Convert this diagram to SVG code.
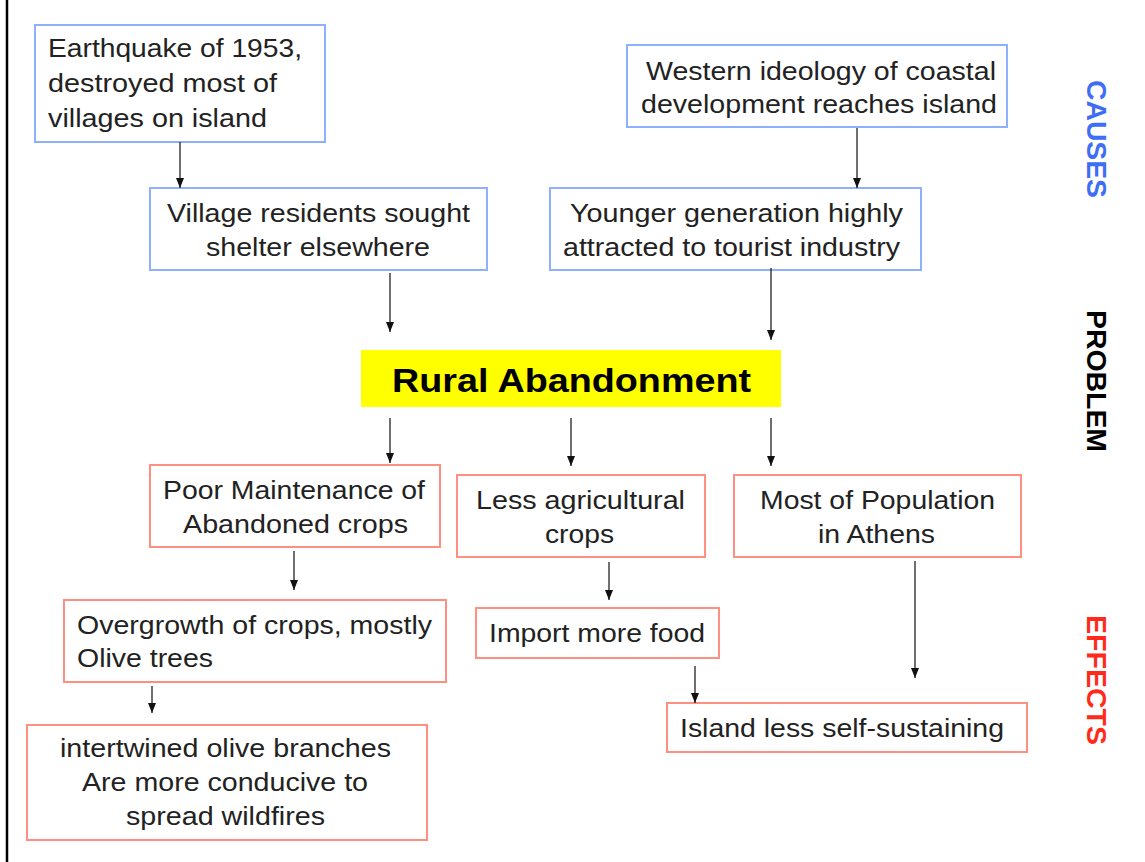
<svg xmlns="http://www.w3.org/2000/svg" width="1145" height="862" viewBox="0 0 1145 862">
<style>
.b{fill:#fff;stroke:#8fb0ff;stroke-width:2}
.r{fill:#fff;stroke:#ff8f80;stroke-width:2}
.t{font-family:"Liberation Sans",Arial,sans-serif;font-size:25px;fill:#222}
.side{font-family:"Liberation Sans",Arial,sans-serif;font-size:27px;font-weight:bold}
.a{stroke:#222;stroke-width:1.3;fill:none;marker-end:url(#ah)}
</style>
<defs>
<marker id="ah" viewBox="0 0 10 8" refX="10" refY="4" markerWidth="10" markerHeight="8" markerUnits="userSpaceOnUse" orient="auto">
<path d="M0,0 L10,4 L0,8 Z" fill="#111"/>
</marker>
</defs>
<rect width="1145" height="862" fill="#fff"/>
<line x1="7" y1="0" x2="7" y2="862" stroke="#000" stroke-width="2.5"/>
<g id="n1"><rect class="b" x="35" y="25" width="290" height="117"/>
<text class="t" x="48" y="57" textLength="254" lengthAdjust="spacingAndGlyphs">Earthquake of 1953,</text>
<text class="t" x="48" y="92" textLength="229" lengthAdjust="spacingAndGlyphs">destroyed most of</text>
<text class="t" x="48" y="127" textLength="219" lengthAdjust="spacingAndGlyphs">villages on island</text></g>
<g id="n2"><rect class="b" x="627" y="45" width="380" height="82"/>
<text class="t" x="646" y="80" textLength="350" lengthAdjust="spacingAndGlyphs">Western ideology of coastal</text>
<text class="t" x="641" y="113" textLength="356" lengthAdjust="spacingAndGlyphs">development reaches island</text></g>
<g id="n3"><rect class="b" x="150" y="188" width="337" height="82"/>
<text class="t" x="167" y="222" textLength="303" lengthAdjust="spacingAndGlyphs">Village residents sought</text>
<text class="t" x="206" y="256" textLength="224" lengthAdjust="spacingAndGlyphs">shelter elsewhere</text></g>
<g id="n4"><rect class="b" x="550" y="188" width="371" height="82"/>
<text class="t" x="570" y="222" textLength="333" lengthAdjust="spacingAndGlyphs">Younger generation highly</text>
<text class="t" x="563" y="256" textLength="337" lengthAdjust="spacingAndGlyphs">attracted to tourist industry</text></g>
<g id="n5"><rect x="361" y="350" width="420" height="57" fill="#ffff00"/>
<text x="392" y="392" font-family="Liberation Sans,Arial,sans-serif" font-size="33" font-weight="bold" fill="#000" textLength="359" lengthAdjust="spacingAndGlyphs">Rural Abandonment</text></g>
<g id="n6"><rect class="r" x="150" y="465" width="290" height="82"/>
<text class="t" x="163" y="499" textLength="262" lengthAdjust="spacingAndGlyphs">Poor Maintenance of</text>
<text class="t" x="183" y="533" textLength="225" lengthAdjust="spacingAndGlyphs">Abandoned crops</text></g>
<g id="n7"><rect class="r" x="457" y="475" width="248" height="82"/>
<text class="t" x="476" y="509" textLength="209" lengthAdjust="spacingAndGlyphs">Less agricultural</text>
<text class="t" x="545" y="543" textLength="69" lengthAdjust="spacingAndGlyphs">crops</text></g>
<g id="n8"><rect class="r" x="734" y="475" width="287" height="82"/>
<text class="t" x="760" y="509" textLength="235" lengthAdjust="spacingAndGlyphs">Most of Population</text>
<text class="t" x="818" y="543" textLength="117" lengthAdjust="spacingAndGlyphs">in Athens</text></g>
<g id="n9"><rect class="r" x="64" y="600" width="382" height="82"/>
<text class="t" x="77" y="634" textLength="355" lengthAdjust="spacingAndGlyphs">Overgrowth of crops, mostly</text>
<text class="t" x="77" y="667" textLength="136" lengthAdjust="spacingAndGlyphs">Olive trees</text></g>
<g id="n10"><rect class="r" x="476" y="608" width="243" height="50"/>
<text class="t" x="489" y="642" textLength="216" lengthAdjust="spacingAndGlyphs">Import more food</text></g>
<g id="n11"><rect class="r" x="667" y="703" width="360" height="49"/>
<text class="t" x="680" y="737" textLength="324" lengthAdjust="spacingAndGlyphs">Island less self-sustaining</text></g>
<g id="n12"><rect class="r" x="27" y="725" width="400" height="115"/>
<text class="t" x="60" y="757" textLength="331" lengthAdjust="spacingAndGlyphs">intertwined olive branches</text>
<text class="t" x="82" y="791" textLength="286" lengthAdjust="spacingAndGlyphs">Are more conducive to</text>
<text class="t" x="126" y="825" textLength="199" lengthAdjust="spacingAndGlyphs">spread wildfires</text></g>
<g id="connectors">
<line class="a" x1="180" y1="142" x2="180" y2="188"/>
<line class="a" x1="857" y1="128" x2="857" y2="188"/>
<line class="a" x1="390" y1="273" x2="390" y2="332"/>
<line class="a" x1="771" y1="268" x2="771" y2="340"/>
<line class="a" x1="390" y1="418" x2="390" y2="463"/>
<line class="a" x1="571" y1="418" x2="571" y2="466"/>
<line class="a" x1="771" y1="418" x2="771" y2="466"/>
<line class="a" x1="294" y1="551" x2="294" y2="590"/>
<line class="a" x1="609" y1="562" x2="609" y2="600"/>
<line class="a" x1="152" y1="686" x2="152" y2="713"/>
<line class="a" x1="915" y1="561" x2="915" y2="678"/>
<line class="a" x1="695" y1="666" x2="695" y2="703"/>
</g>
<g id="labels">
<text class="side" transform="translate(1087 80) rotate(90)" fill="#3d6ef5" textLength="118" lengthAdjust="spacingAndGlyphs">CAUSES</text>
<text class="side" transform="translate(1087 310) rotate(90)" fill="#000" textLength="142" lengthAdjust="spacingAndGlyphs">PROBLEM</text>
<text class="side" transform="translate(1087 615) rotate(90)" fill="#ff2a1a" textLength="130" lengthAdjust="spacingAndGlyphs">EFFECTS</text>
</g>
</svg>
